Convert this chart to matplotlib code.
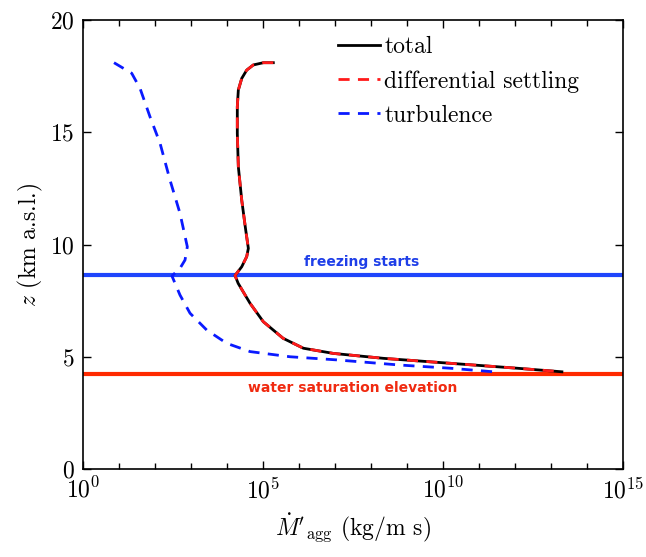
import numpy as np
import matplotlib
matplotlib.use("Agg")
import matplotlib.pyplot as plt
from matplotlib.ticker import NullFormatter, FixedLocator

plt.rcParams["font.family"] = "serif"
plt.rcParams["font.serif"] = ["cmr10"]
plt.rcParams["mathtext.fontset"] = "cm"
plt.rcParams["axes.formatter.use_mathtext"] = True
plt.rcParams["axes.unicode_minus"] = False

# Altitude (km a.s.l.) and aggregation mass rates (kg/m s)
z_total = [18.10, 18.10, 18.0, 17.77, 17.40, 16.88, 16.14, 14.95, 13.47, 11.98, 10.65,
           9.83, 9.46, 9.01, 8.62, 8.27, 7.38, 6.56, 5.82, 5.38, 5.15, 4.93, 4.71,
           4.49, 4.33]
m_total = [1.93e5, 1.02e5, 5.37e4, 3.52e4, 2.56e4, 2.06e4, 1.93e4, 1.93e4, 2.06e4,
           2.56e4, 3.30e4, 3.91e4, 3.52e4, 2.56e4, 1.67e4, 2.04e4, 4.37e4, 1.02e5,
           3.63e5, 1.32e6, 8.9e6, 2.19e8, 1.55e10, 1.12e12, 2.0e13]

z_diff = list(z_total)
m_diff = list(m_total)

z_turb = [18.10, 17.63, 16.96, 15.69, 14.51, 12.87, 11.39, 9.90, 9.31, 8.94, 8.60,
          7.75, 6.94, 6.19, 5.60, 5.23, 5.00, 4.86, 4.63, 4.49, 4.33]
m_turb = [7.26, 22.5, 38.3, 72.6, 138.0, 261.0, 494.0, 789.0, 681.0, 494.0, 295.0,
          494.0, 938.0, 2.73e3, 9.77e3, 4.37e4, 5.62e5, 1.12e7, 6.46e8, 1.55e10, 2.51e11]

z_freezing = 8.65
z_saturation = 4.22

fig = plt.figure(figsize=(6.46, 5.57), dpi=100)
ax = fig.add_axes([0.1285, 0.158, 0.836, 0.806])

ax.axhline(z_freezing, color="#1f45fc", lw=3.0, zorder=1)
ax.axhline(z_saturation, color="#ff2a00", lw=3.0, zorder=1)

ax.plot(m_total, z_total, color="black", lw=2.0, label="total", zorder=3)
ax.plot(m_diff, z_diff, color="#ff1a1a", lw=2.0, ls=(0, (4, 3)),
        label="differential settling", zorder=4)
ax.plot(m_turb, z_turb, color="#0a1aff", lw=2.0, ls=(0, (4, 3)),
        label="turbulence", zorder=3)

ax.text(10 ** 7.75, z_freezing + 0.25, "freezing starts", color="#1f3fe8",
        fontsize=10, fontweight="bold", family="DejaVu Sans",
        ha="center", va="bottom")
ax.text(10 ** 7.5, z_saturation - 0.3, "water saturation elevation", color="#f02a10",
        fontsize=10, fontweight="bold", family="DejaVu Sans",
        ha="center", va="top")

ax.set_xscale("log")
ax.set_xlim(1e0, 1e15)
ax.set_ylim(0, 20)
ax.xaxis.set_major_locator(FixedLocator([1e0, 1e5, 1e10, 1e15]))
ax.xaxis.set_minor_locator(FixedLocator([10.0 ** k for k in range(16) if k % 5]))
ax.xaxis.set_minor_formatter(NullFormatter())
ax.set_yticks([0, 5, 10, 15, 20])

ax.tick_params(which="both", direction="in", top=True, right=True,
               labelsize=17, width=1.0)
ax.tick_params(which="major", length=6)
ax.tick_params(which="minor", length=4)
ax.tick_params(axis="y", pad=6)
ax.tick_params(axis="x", pad=6)
for s in ax.spines.values():
    s.set_linewidth(1.2)

ax.set_xlabel(r"$\dot{M}'_{\mathrm{agg}}$ (kg/m s)", fontsize=17, labelpad=6)
ax.set_ylabel(r"$z$ (km a.s.l.)", fontsize=17)

ax.legend(loc="upper left", bbox_to_anchor=(0.455, 0.985), frameon=False,
          fontsize=17, handlelength=1.75, handletextpad=0.2, labelspacing=0.5,
          borderaxespad=0.0)

fig.savefig("out.png", dpi=100)
